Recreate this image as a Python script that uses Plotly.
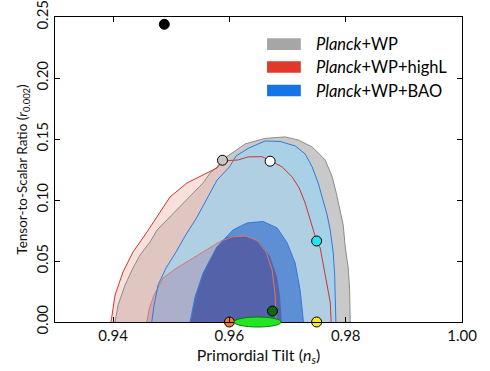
import plotly.graph_objects as go

# ---------------- data ----------------
# Planck+WP (grey) 95% contour
gray95_ns = [0.94033, 0.94085, 0.94205, 0.94342, 0.94463, 0.94635, 0.94755, 0.94979, 0.95203,
             0.95375, 0.95547, 0.95668, 0.95788, 0.95874, 0.96046, 0.9627, 0.96614, 0.96958,
             0.97182, 0.97423, 0.97647, 0.97768, 0.97837, 0.97905, 0.97957, 0.97991, 0.98043,
             0.98068, 0.98077]
gray95_r = [0.0, 0.0139, 0.0303, 0.0443, 0.0549, 0.0656, 0.0754, 0.0861, 0.0976,
            0.1058, 0.114, 0.1222, 0.1271, 0.1328, 0.1386, 0.146, 0.1505, 0.1517,
            0.1492, 0.1435, 0.1328, 0.1189, 0.1058, 0.0918, 0.0795, 0.0615, 0.0443,
            0.0262, 0.0]
# Planck+WP (grey) 68% contour (visible dark core)
gray68_ns = [0.95332, 0.95418, 0.95556, 0.95788, 0.95943, 0.96098, 0.96304, 0.96528, 0.967,
             0.9682, 0.96872, 0.969]
gray68_r = [0.0, 0.0205, 0.0402, 0.0615, 0.0693, 0.0705, 0.0701, 0.0648, 0.0537,
            0.0369, 0.0205, 0.0]
# Planck+WP+highL (red) 95% contour
red95_ns = [0.93964, 0.94033, 0.9417, 0.94342, 0.94583, 0.94755, 0.94979, 0.95272, 0.95547,
            0.95788, 0.95874, 0.96149, 0.96322, 0.96562, 0.967, 0.96906, 0.97079, 0.97199,
            0.97302, 0.97389, 0.97458, 0.97509, 0.97561, 0.97612, 0.97681, 0.97733, 0.9775]
red95_r = [0.0, 0.0221, 0.041, 0.0574, 0.0738, 0.0861, 0.1025, 0.114, 0.1205,
           0.1263, 0.132, 0.1328, 0.1353, 0.1355, 0.1323, 0.1271, 0.1189, 0.1099,
           0.0976, 0.0836, 0.0722, 0.0648, 0.0607, 0.0467, 0.0303, 0.0164, 0.0]
# Planck+WP+highL (red) 68% contour
red68_ns = [0.94578, 0.94623, 0.94704, 0.94859, 0.95082, 0.95323, 0.95599, 0.9584, 0.96046,
            0.9627, 0.96476, 0.96631, 0.96734, 0.96786, 0.96803]
red68_r = [0.0, 0.0115, 0.0221, 0.0361, 0.0439, 0.0508, 0.059, 0.066, 0.0697,
           0.0705, 0.0672, 0.0574, 0.0426, 0.0221, 0.0]
# Planck+WP+BAO (blue) 95% contour
blue95_ns = [0.94664, 0.94704, 0.94773, 0.9491, 0.95082, 0.95237, 0.95444, 0.95616, 0.95788,
             0.96, 0.96115, 0.96322, 0.96614, 0.96872, 0.9713, 0.97302, 0.97423, 0.97526,
             0.97612, 0.97681, 0.97733, 0.97784, 0.9781, 0.97831]
blue95_r = [0.0, 0.0139, 0.0303, 0.0443, 0.0574, 0.0705, 0.0861, 0.1017, 0.1164,
            0.1271, 0.1361, 0.1423, 0.1484, 0.148, 0.1443, 0.1378, 0.1271, 0.114,
            0.1, 0.0877, 0.0754, 0.0574, 0.0385, 0.0]
# Planck+WP+BAO (blue) 68% contour
blue68_ns = [0.95323, 0.95409, 0.95547, 0.95783, 0.96063, 0.96304, 0.9658, 0.96821, 0.96993,
             0.9713, 0.97216, 0.97273]
blue68_r = [0.0, 0.0205, 0.0402, 0.0615, 0.0754, 0.0812, 0.0824, 0.0771, 0.0648,
            0.0484, 0.0262, 0.0]

# model points
model_ns = [0.9488, 0.9588, 0.967, 0.975, 0.975, 0.9674, 0.960]
model_r = [0.244, 0.1326, 0.1318, 0.0664, 0.0, 0.009, 0.0]
model_colors = ["#000000", "#c8c8c8", "#ffffff", "#1fe6f0", "#ffe81a", "#0c6a0c", "#f47a2a"]

# green ellipse (model band)
ellipse_ns = [0.9608, 0.9689]
ellipse_r = [-0.0041, 0.0041]

legend_labels = ["<i>Planck</i>+WP", "<i>Planck</i>+WP+highL", "<i>Planck</i>+WP+BAO"]
legend_colors = ["#a6a6a6", "#e0392a", "#1774e6"]

x_range = [0.93, 1.00]
y_range = [0.0, 0.25]
x_ticks = [0.94, 0.96, 0.98, 1.00]
y_ticks = [0.00, 0.05, 0.10, 0.15, 0.20, 0.25]

# ---------------- figure ----------------
fig = go.Figure()


def closed(xs, ys):
    return list(xs) + [xs[0]], list(ys) + [ys[0]]


def add_fill(xs, ys, fillcolor, linecolor=None, width=1.0):
    cx, cy = closed(xs, ys)
    fig.add_trace(go.Scatter(
        x=cx, y=cy, mode="lines", fill="toself", fillcolor=fillcolor,
        line=dict(color=linecolor if linecolor else "rgba(0,0,0,0)", width=width),
        hoverinfo="skip", showlegend=False))


def add_line(xs, ys, color, width=1.0):
    fig.add_trace(go.Scatter(
        x=list(xs), y=list(ys), mode="lines", line=dict(color=color, width=width),
        hoverinfo="skip", showlegend=False))


add_fill(gray95_ns, gray95_r, "rgba(130,130,130,0.43)")
add_fill(red95_ns, red95_r, "rgba(244,196,186,0.52)")
add_fill(blue95_ns, blue95_r, "rgba(147,213,250,0.60)")
add_fill(red68_ns, red68_r, "rgba(162,128,166,0.40)")
add_fill(blue68_ns, blue68_r, "rgba(58,115,206,0.70)")
add_fill(gray68_ns, gray68_r, "rgba(84,96,166,0.92)")

add_line(gray95_ns, gray95_r, "rgba(140,140,140,1)", 1.0)
add_line(red95_ns, red95_r, "rgba(205,55,45,1)", 1.0)
add_line(red68_ns, red68_r, "rgba(215,120,110,1)", 1.0)
add_line(blue95_ns, blue95_r, "rgba(50,120,220,1)", 1.0)
add_line(blue68_ns, blue68_r, "rgba(50,120,220,1)", 1.0)

fig.add_trace(go.Scatter(
    x=model_ns, y=model_r, mode="markers",
    marker=dict(size=10, color=model_colors, line=dict(color="black", width=1)),
    cliponaxis=False, hoverinfo="skip", showlegend=False))

# green ellipse: y in 'y domain' units so it is not clipped by the r=0 axis
span = y_range[1] - y_range[0]
fig.add_shape(type="circle", xref="x", yref="y domain",
              x0=ellipse_ns[0], x1=ellipse_ns[1],
              y0=(ellipse_r[0] - y_range[0]) / span, y1=(ellipse_r[1] - y_range[0]) / span,
              fillcolor="#22e622", line=dict(color="#0a7a0a", width=1), layer="above")

# legend drawn as patches + text
rows_y = [0.911, 0.836, 0.759]
for lab, col, yy in zip(legend_labels, legend_colors, rows_y):
    fig.add_shape(type="rect", xref="paper", yref="paper",
                  x0=0.521, x1=0.604, y0=yy - 0.019, y1=yy + 0.019,
                  fillcolor=col, line=dict(width=0), layer="above")
    fig.add_annotation(x=0.637, y=yy, xref="paper", yref="paper", text=lab,
                       showarrow=False, xanchor="left", yanchor="middle",
                       font=dict(size=16.5, color="black"))

axis_common = dict(showgrid=False, zeroline=False, showline=True, linecolor="black",
                   linewidth=1, mirror="ticks", ticks="inside", ticklen=5,
                   tickcolor="black", tickwidth=1, automargin=False,
                   ticklabeloverflow="allow",
                   tickfont=dict(size=15, color="#111111"))

fig.update_xaxes(range=x_range, tickvals=x_ticks, ticktext=[f"{v:.2f}" for v in x_ticks],
                 title=dict(text="Primordial Tilt (<i>n<sub>s</sub></i>)", standoff=6,
                            font=dict(size=16, color="#111111")),
                 **axis_common)
fig.update_yaxes(range=y_range, tickvals=y_ticks, ticktext=[f"{v:.2f}" for v in y_ticks],
                 tickangle=-90,
                 title=dict(text="Tensor-to-Scalar Ratio (<i>r</i><sub>0.002</sub>)", standoff=2,
                            font=dict(size=13.5, color="#111111")),
                 **axis_common)

fig.update_layout(width=490, height=371,
                  margin=dict(l=55, r=28, t=17, b=49),
                  paper_bgcolor="white", plot_bgcolor="white",
                  font=dict(family="Lato, sans-serif"),
                  showlegend=False)

# remove the default 8 px page margin so the figure fills the window exactly
fig.write_html("out.html", config={"displayModeBar": False},
               post_script="document.body.style.margin='0px';")
